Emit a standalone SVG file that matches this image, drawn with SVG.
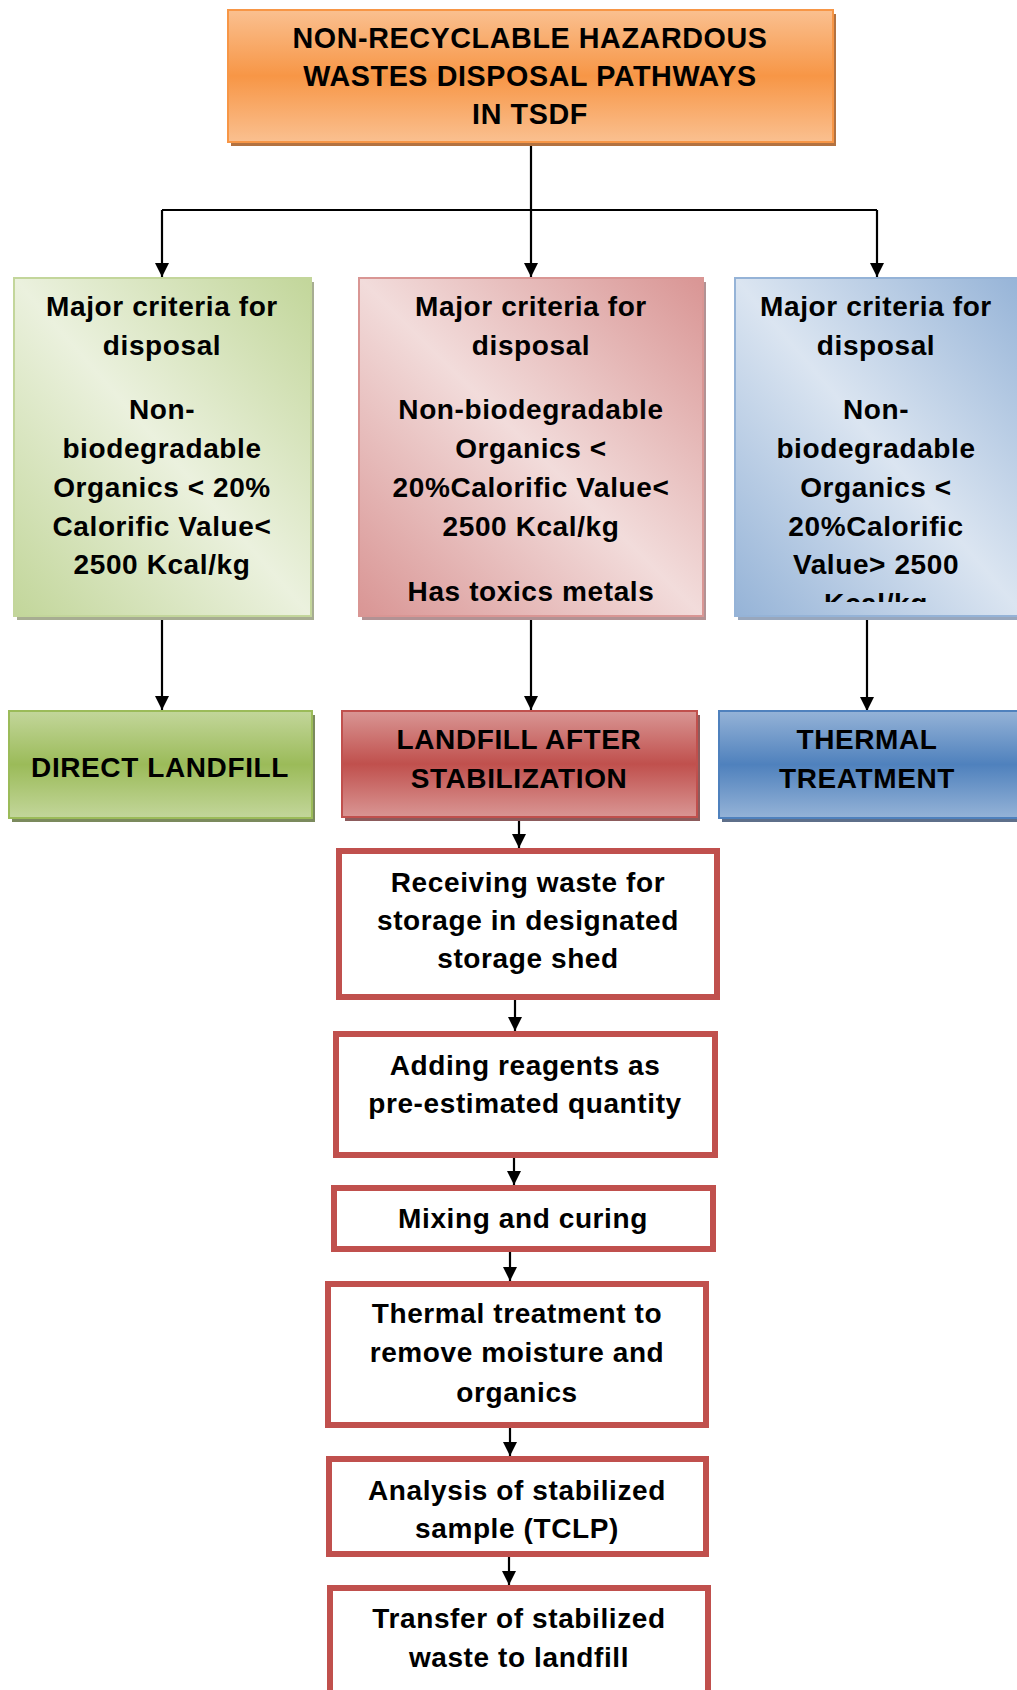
<svg xmlns="http://www.w3.org/2000/svg" width="1017" height="1690" viewBox="0 0 1017 1690">
<style>
text{font-family:"Liberation Sans",Arial,sans-serif;font-weight:bold;font-size:28px;fill:#000;text-anchor:middle;letter-spacing:0.6px}
.ttl{font-size:28.7px}
.conn{stroke:#000;stroke-width:2.2;fill:none}
.proc{fill:#fff;stroke:#c0504d;stroke-width:6}
</style>
<defs>
<marker id="ah" markerUnits="userSpaceOnUse" markerWidth="16" markerHeight="16" viewBox="0 0 16 16" refX="14" refY="8" orient="auto">
<path d="M0,1 L14,8 L0,15 Z" fill="#000"/>
</marker>
<linearGradient id="gTitle" x1="0" y1="0" x2="0" y2="1"><stop offset="0" stop-color="#fac090"/><stop offset="0.5" stop-color="#f79646"/><stop offset="1" stop-color="#fac090"/></linearGradient>
<linearGradient id="gGreen" x1="0" y1="0" x2="0" y2="1"><stop offset="0" stop-color="#c3d69b"/><stop offset="0.5" stop-color="#9bbb59"/><stop offset="1" stop-color="#c3d69b"/></linearGradient>
<linearGradient id="gRed" x1="0" y1="0" x2="0" y2="1"><stop offset="0" stop-color="#d99694"/><stop offset="0.5" stop-color="#c0504d"/><stop offset="1" stop-color="#d99694"/></linearGradient>
<linearGradient id="gBlue" x1="0" y1="0" x2="0" y2="1"><stop offset="0" stop-color="#95b3d7"/><stop offset="0.5" stop-color="#4f81bd"/><stop offset="1" stop-color="#95b3d7"/></linearGradient>
<linearGradient id="dGreen" x1="1" y1="0" x2="0" y2="1"><stop offset="0" stop-color="#c2d69a"/><stop offset="0.5" stop-color="#ebf1de"/><stop offset="1" stop-color="#c2d69a"/></linearGradient>
<linearGradient id="dRed" x1="1" y1="0" x2="0" y2="1"><stop offset="0" stop-color="#d99594"/><stop offset="0.5" stop-color="#f2dcdb"/><stop offset="1" stop-color="#d99594"/></linearGradient>
<linearGradient id="dBlue" x1="1" y1="0" x2="0" y2="1"><stop offset="0" stop-color="#95b3d7"/><stop offset="0.5" stop-color="#dbe5f1"/><stop offset="1" stop-color="#95b3d7"/></linearGradient>
<clipPath id="clipBlue"><rect x="735" y="278" width="290" height="324"/></clipPath>
</defs>

<g id="connectors">
<path class="conn" d="M531,142 V210 M162,210 H877"/>
<path class="conn" d="M162,210 V277" marker-end="url(#ah)"/>
<path class="conn" d="M531,210 V277" marker-end="url(#ah)"/>
<path class="conn" d="M877,210 V277" marker-end="url(#ah)"/>
<path class="conn" d="M162,616 V710" marker-end="url(#ah)"/>
<path class="conn" d="M531,616 V710" marker-end="url(#ah)"/>
<path class="conn" d="M867,616 V711" marker-end="url(#ah)"/>
<path class="conn" d="M519,817 V848" marker-end="url(#ah)"/>
<path class="conn" d="M515,1000 V1031" marker-end="url(#ah)"/>
<path class="conn" d="M514,1158 V1185" marker-end="url(#ah)"/>
<path class="conn" d="M510,1252 V1281" marker-end="url(#ah)"/>
<path class="conn" d="M510,1428 V1456" marker-end="url(#ah)"/>
<path class="conn" d="M509,1557 V1585" marker-end="url(#ah)"/>
</g>

<g id="title">
<rect x="231" y="14" width="605" height="132" fill="#b37240"/>
<rect x="228" y="10" width="605" height="132" fill="url(#gTitle)" stroke="#f79646" stroke-width="2"/>
<text class="ttl" x="530" y="48">NON-RECYCLABLE HAZARDOUS</text>
<text class="ttl" x="530" y="86">WASTES DISPOSAL PATHWAYS</text>
<text class="ttl" x="530" y="124">IN TSDF</text>
</g>

<g id="criteria-green">
<rect x="17" y="282" width="297" height="338" fill="#a7ad92"/>
<rect x="14" y="278" width="297" height="338" fill="url(#dGreen)" stroke="#c3d69b" stroke-width="2"/>
<text x="162" y="316">Major criteria for</text>
<text x="162" y="355">disposal</text>
<text x="162" y="419">Non-</text>
<text x="162" y="458">biodegradable</text>
<text x="162" y="497">Organics &lt; 20%</text>
<text x="162" y="536">Calorific Value&lt;</text>
<text x="162" y="574">2500 Kcal/kg</text>
</g>

<g id="criteria-red">
<rect x="362" y="282" width="344" height="338" fill="#b29294"/>
<rect x="359" y="278" width="344" height="338" fill="url(#dRed)" stroke="#d99694" stroke-width="2"/>
<text x="531" y="316">Major criteria for</text>
<text x="531" y="355">disposal</text>
<text x="531" y="419">Non-biodegradable</text>
<text x="531" y="458">Organics &lt;</text>
<text x="531" y="497">20%Calorific Value&lt;</text>
<text x="531" y="536">2500 Kcal/kg</text>
<text x="531" y="601">Has toxics metals</text>
</g>

<g id="criteria-blue">
<rect x="738" y="282" width="290" height="338" fill="#98a7bd"/>
<rect x="735" y="278" width="290" height="338" fill="url(#dBlue)" stroke="#95b3d7" stroke-width="2"/>
<text x="876" y="316">Major criteria for</text>
<text x="876" y="355">disposal</text>
<text x="876" y="419">Non-</text>
<text x="876" y="458">biodegradable</text>
<text x="876" y="497">Organics &lt;</text>
<text x="876" y="536">20%Calorific</text>
<text x="876" y="574">Value&gt; 2500</text>
<text x="876" y="613" clip-path="url(#clipBlue)">Kcal/kg</text>
</g>

<g id="direct-landfill">
<rect x="12" y="715" width="303" height="107" fill="#7b8a5d"/>
<rect x="9" y="711" width="303" height="107" fill="url(#gGreen)" stroke="#9bbb59" stroke-width="2"/>
<text x="160" y="777">DIRECT LANDFILL</text>
</g>

<g id="landfill-after-stabilization">
<rect x="345" y="715" width="355" height="106" fill="#8c5b5c"/>
<rect x="342" y="711" width="355" height="106" fill="url(#gRed)" stroke="#c0504d" stroke-width="2"/>
<text x="519" y="749">LANDFILL AFTER</text>
<text x="519" y="788">STABILIZATION</text>
</g>

<g id="thermal-treatment">
<rect x="722" y="715" width="305" height="107" fill="#5e6f8a"/>
<rect x="719" y="711" width="305" height="107" fill="url(#gBlue)" stroke="#4f81bd" stroke-width="2"/>
<text x="867" y="749">THERMAL</text>
<text x="867" y="788">TREATMENT</text>
</g>

<g id="step-receiving">
<rect class="proc" x="339" y="851" width="378" height="146"/>
<text x="528" y="892">Receiving waste for</text>
<text x="528" y="930">storage in designated</text>
<text x="528" y="968">storage shed</text>
</g>

<g id="step-reagents">
<rect class="proc" x="336" y="1034" width="379" height="121"/>
<text x="525" y="1075">Adding reagents as</text>
<text x="525" y="1113">pre-estimated quantity</text>
</g>

<g id="step-mixing">
<rect class="proc" x="334" y="1188" width="379" height="61"/>
<text x="523" y="1228">Mixing and curing</text>
</g>

<g id="step-thermal">
<rect class="proc" x="328" y="1284" width="378" height="141"/>
<text x="517" y="1323">Thermal treatment to</text>
<text x="517" y="1362">remove moisture and</text>
<text x="517" y="1402">organics</text>
</g>

<g id="step-analysis">
<rect class="proc" x="329" y="1459" width="377" height="95"/>
<text x="517" y="1500">Analysis of stabilized</text>
<text x="517" y="1538">sample (TCLP)</text>
</g>

<g id="step-transfer">
<rect class="proc" x="330" y="1588" width="378" height="120"/>
<text x="519" y="1628">Transfer of stabilized</text>
<text x="519" y="1667">waste to landfill</text>
</g>
</svg>
